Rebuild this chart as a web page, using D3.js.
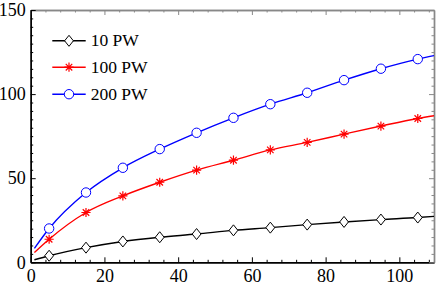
<!DOCTYPE html>
<html>
<head>
<meta charset="utf-8">
<script src="https://cdn.jsdelivr.net/npm/d3@7"></script>
<style>
  html, body { margin: 0; padding: 0; background: #fff; }
  svg { display: block; }
  text { font-family: "Liberation Serif", "Times New Roman", serif; fill: #000; }
</style>
</head>
<body>
<div id="chart"></div>
<script>
'use strict';

// ------------ DATA ---------------- //

const seriesNames  = ['10 PW', '100 PW', '200 PW'];
const markerX      = [5, 15, 25, 35, 45, 55, 65, 75, 85, 95, 105];
const pw10Points   = [3.9, 8.7, 12.4, 14.9, 16.8, 19.0, 20.6, 22.4, 24.0, 25.4, 26.6];
const pw100Points  = [13.7, 29.6, 39.5, 47.6, 54.8, 60.7, 66.8, 71.3, 76.2, 81.0, 85.5];
const pw200Points  = [20.1, 41.5, 56.2, 67.3, 77.0, 85.9, 94.0, 100.8, 108.3, 115.1, 120.8];

// curve end points (start near x = 1, end at right frame edge)
const lineEndX     = [1, 109.4];
const pw10Ends     = [1.5, 27.3];
const pw100Ends    = [5.8, 87.1];
const pw200Ends    = [8.3, 122.9];

const xTickLabels  = [0, 20, 40, 60, 80, 100];
const yTickLabels  = [0, 50, 100, 150];

// ------------ LAYOUT ---------------- //

const width  = 436;
const height = 287;
const M = {left: 30.7, right: 434, top: 10, bottom: 262.3};

const x = d3.scaleLinear().domain([0, 109.4]).range([M.left, M.right]);
const y = d3.scaleLinear().domain([0, 150]).range([M.bottom, M.top]);

const xMinor = d3.range(0, 109.4, 4).filter(v => v % 20 !== 0);
const yMinor = d3.range(0, 150, 5).filter(v => v % 50 !== 0);

const series = [
    {name: seriesNames[0], values: pw10Points,  ends: pw10Ends,  color: '#000', marker: 'diamond'},
    {name: seriesNames[1], values: pw100Points, ends: pw100Ends, color: '#f00', marker: 'star'},
    {name: seriesNames[2], values: pw200Points, ends: pw200Ends, color: '#00f', marker: 'circle'}
];

// ------------ DRAWING ---------------- //

const svg = d3.select('#chart')
    .append('svg')
    .attr('width', width)
    .attr('height', height);

svg.append('defs').append('clipPath').attr('id', 'plot-clip')
    .append('rect')
    .attr('x', M.left).attr('y', M.top)
    .attr('width', M.right - M.left).attr('height', M.bottom - M.top);

// frame: black bottom/left, gray top/right
const frame = (axis, pos, color) => {
    const g = svg.append('g').attr('transform', pos).call(axis);
    g.attr('font-family', null);
    g.select('.domain').attr('stroke', color).attr('stroke-width', 1.4);
    g.selectAll('.tick line').attr('stroke', color).attr('stroke-width', 1);
    g.selectAll('.tick text').attr('font-size', 18);
    return g;
};

const noLabel = () => '';

// minor ticks first
frame(d3.axisBottom(x).tickValues(xMinor).tickSizeInner(-2.5).tickSizeOuter(0).tickFormat(noLabel),
    `translate(0,${M.bottom})`, '#000');
frame(d3.axisTop(x).tickValues(xMinor).tickSizeInner(-2.5).tickSizeOuter(0).tickFormat(noLabel),
    `translate(0,${M.top})`, '#888');
frame(d3.axisLeft(y).tickValues(yMinor).tickSizeInner(-2.5).tickSizeOuter(0).tickFormat(noLabel),
    `translate(${M.left},0)`, '#000');
frame(d3.axisRight(y).tickValues(yMinor).tickSizeInner(-2.5).tickSizeOuter(0).tickFormat(noLabel),
    `translate(${M.right},0)`, '#888');

// major ticks
frame(d3.axisBottom(x).tickValues(xTickLabels).tickSizeInner(-5).tickSizeOuter(0).tickPadding(7).tickFormat(d3.format('d')),
    `translate(0,${M.bottom})`, '#000');
frame(d3.axisTop(x).tickValues(xTickLabels).tickSizeInner(-5).tickSizeOuter(0).tickFormat(noLabel),
    `translate(0,${M.top})`, '#888');
frame(d3.axisLeft(y).tickValues(yTickLabels).tickSizeInner(-5).tickSizeOuter(0).tickPadding(5).tickFormat(d3.format('d')),
    `translate(${M.left},0)`, '#000');
frame(d3.axisRight(y).tickValues(yTickLabels).tickSizeInner(-5).tickSizeOuter(0).tickFormat(noLabel),
    `translate(${M.right},0)`, '#888');

// markers
const markerPath = type => {
    if (type === 'diamond') return 'M0,-5.5L4.4,0L0,5.5L-4.4,0Z';
    if (type === 'star') {
        const r = 4.6, d = r * Math.SQRT1_2;
        return `M0,${-r}V${r}M${-r},0H${r}M${-d},${-d}L${d},${d}M${-d},${d}L${d},${-d}`;
    }
    return d3.symbol(d3.symbolCircle, Math.PI * 4.7 * 4.7)();
};

const drawMarker = (g, s, px, py) => {
    g.append('path')
        .attr('d', markerPath(s.marker))
        .attr('transform', `translate(${px},${py})`)
        .attr('fill', s.marker === 'star' ? 'none' : '#fff')
        .attr('stroke', s.color)
        .attr('stroke-width', s.marker === 'star' ? 1.2 : 1);
};

const line = d3.line()
    .x(d => x(d[0]))
    .y(d => y(d[1]))
    .curve(d3.curveMonotoneX);

const plot = svg.append('g');

series.forEach(s => {
    const pts = [[lineEndX[0], s.ends[0]]]
        .concat(markerX.map((mx, i) => [mx, s.values[i]]))
        .concat([[lineEndX[1], s.ends[1]]]);

    plot.append('path')
        .attr('d', line(pts))
        .attr('clip-path', 'url(#plot-clip)')
        .attr('fill', 'none')
        .attr('stroke', s.color)
        .attr('stroke-width', 1.4);

    const mg = plot.append('g');
    markerX.forEach((mx, i) => drawMarker(mg, s, x(mx), y(s.values[i])));
});

// legend
const legend = svg.append('g');
const legendRows = [40.8, 67.2, 94.2];

series.forEach((s, i) => {
    const ly = legendRows[i];
    legend.append('line')
        .attr('x1', 52.3).attr('x2', 85.7)
        .attr('y1', ly).attr('y2', ly)
        .attr('stroke', s.color)
        .attr('stroke-width', 1.4);
    drawMarker(legend, s, 69, ly);
    legend.append('text')
        .attr('x', 90.7)
        .attr('y', ly + 5.6)
        .attr('font-size', 17.5)
        .text(s.name);
});
</script>
</body>
</html>
